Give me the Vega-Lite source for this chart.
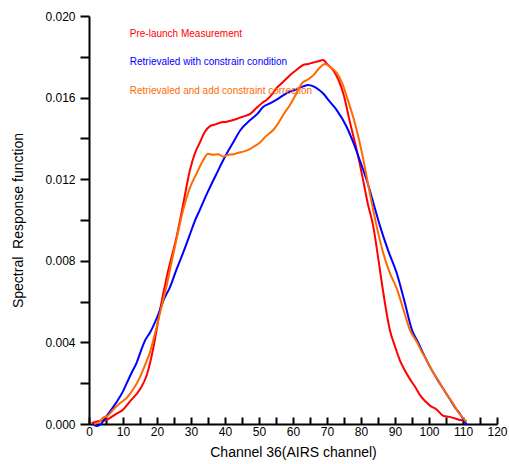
{
  "$schema": "https://vega.github.io/schema/vega-lite/v6.json",
  "width": 408,
  "height": 408,
  "autosize": "none",
  "padding": {"left": 89, "top": 16, "right": 12, "bottom": 40},
  "background": "white",
  "config": {"view": {"stroke": null}, "font": "Liberation Sans"},
  "datasets": {
    "curves": [
      {"x": 0.8, "y": 0.00005, "s": "Pre-launch Measurement"},
      {"x": 3, "y": 0.00015, "s": "Pre-launch Measurement"},
      {"x": 5, "y": 0.0002, "s": "Pre-launch Measurement"},
      {"x": 8, "y": 0.0005, "s": "Pre-launch Measurement"},
      {"x": 10, "y": 0.0007, "s": "Pre-launch Measurement"},
      {"x": 12, "y": 0.0011, "s": "Pre-launch Measurement"},
      {"x": 15, "y": 0.0017, "s": "Pre-launch Measurement"},
      {"x": 17, "y": 0.0024, "s": "Pre-launch Measurement"},
      {"x": 19, "y": 0.0038, "s": "Pre-launch Measurement"},
      {"x": 20.9, "y": 0.0056, "s": "Pre-launch Measurement"},
      {"x": 23, "y": 0.0073, "s": "Pre-launch Measurement"},
      {"x": 25.8, "y": 0.0092, "s": "Pre-launch Measurement"},
      {"x": 27.5, "y": 0.0106, "s": "Pre-launch Measurement"},
      {"x": 29.7, "y": 0.01245, "s": "Pre-launch Measurement"},
      {"x": 31, "y": 0.0132, "s": "Pre-launch Measurement"},
      {"x": 32.6, "y": 0.0138, "s": "Pre-launch Measurement"},
      {"x": 34, "y": 0.0143, "s": "Pre-launch Measurement"},
      {"x": 35.6, "y": 0.0146, "s": "Pre-launch Measurement"},
      {"x": 37, "y": 0.01468, "s": "Pre-launch Measurement"},
      {"x": 38.5, "y": 0.01477, "s": "Pre-launch Measurement"},
      {"x": 40.5, "y": 0.01482, "s": "Pre-launch Measurement"},
      {"x": 43.4, "y": 0.01495, "s": "Pre-launch Measurement"},
      {"x": 45, "y": 0.01505, "s": "Pre-launch Measurement"},
      {"x": 47.4, "y": 0.0152, "s": "Pre-launch Measurement"},
      {"x": 49.3, "y": 0.0155, "s": "Pre-launch Measurement"},
      {"x": 51, "y": 0.01575, "s": "Pre-launch Measurement"},
      {"x": 52.3, "y": 0.0159, "s": "Pre-launch Measurement"},
      {"x": 54, "y": 0.0162, "s": "Pre-launch Measurement"},
      {"x": 55.2, "y": 0.01647, "s": "Pre-launch Measurement"},
      {"x": 57, "y": 0.01675, "s": "Pre-launch Measurement"},
      {"x": 59.1, "y": 0.0171, "s": "Pre-launch Measurement"},
      {"x": 61, "y": 0.01735, "s": "Pre-launch Measurement"},
      {"x": 63, "y": 0.0176, "s": "Pre-launch Measurement"},
      {"x": 64.5, "y": 0.01765, "s": "Pre-launch Measurement"},
      {"x": 66, "y": 0.01772, "s": "Pre-launch Measurement"},
      {"x": 67.5, "y": 0.01778, "s": "Pre-launch Measurement"},
      {"x": 68.8, "y": 0.01784, "s": "Pre-launch Measurement"},
      {"x": 70.3, "y": 0.0176, "s": "Pre-launch Measurement"},
      {"x": 71.8, "y": 0.01735, "s": "Pre-launch Measurement"},
      {"x": 73.3, "y": 0.0169, "s": "Pre-launch Measurement"},
      {"x": 74.8, "y": 0.0162, "s": "Pre-launch Measurement"},
      {"x": 76.8, "y": 0.01475, "s": "Pre-launch Measurement"},
      {"x": 78.8, "y": 0.0134, "s": "Pre-launch Measurement"},
      {"x": 80.2, "y": 0.0123, "s": "Pre-launch Measurement"},
      {"x": 82, "y": 0.0108, "s": "Pre-launch Measurement"},
      {"x": 83.6, "y": 0.0097, "s": "Pre-launch Measurement"},
      {"x": 85, "y": 0.0082, "s": "Pre-launch Measurement"},
      {"x": 86.5, "y": 0.0065, "s": "Pre-launch Measurement"},
      {"x": 88.5, "y": 0.0046, "s": "Pre-launch Measurement"},
      {"x": 90, "y": 0.0038, "s": "Pre-launch Measurement"},
      {"x": 91.5, "y": 0.0031, "s": "Pre-launch Measurement"},
      {"x": 93, "y": 0.0026, "s": "Pre-launch Measurement"},
      {"x": 94.4, "y": 0.0022, "s": "Pre-launch Measurement"},
      {"x": 96, "y": 0.0018, "s": "Pre-launch Measurement"},
      {"x": 97.4, "y": 0.0014, "s": "Pre-launch Measurement"},
      {"x": 99, "y": 0.0011, "s": "Pre-launch Measurement"},
      {"x": 100.3, "y": 0.0009, "s": "Pre-launch Measurement"},
      {"x": 102.3, "y": 0.0007, "s": "Pre-launch Measurement"},
      {"x": 104.2, "y": 0.0004, "s": "Pre-launch Measurement"},
      {"x": 106, "y": 0.00035, "s": "Pre-launch Measurement"},
      {"x": 107.1, "y": 0.0003, "s": "Pre-launch Measurement"},
      {"x": 109.1, "y": 0.0002, "s": "Pre-launch Measurement"},
      {"x": 111, "y": 0.00015, "s": "Pre-launch Measurement"},

      {"x": 1, "y": 0, "s": "Retrievaled with constrain condition"},
      {"x": 2.3, "y": -0.0001, "s": "Retrievaled with constrain condition"},
      {"x": 3.5, "y": 0, "s": "Retrievaled with constrain condition"},
      {"x": 5.2, "y": 0.0004, "s": "Retrievaled with constrain condition"},
      {"x": 7, "y": 0.0008, "s": "Retrievaled with constrain condition"},
      {"x": 8.6, "y": 0.0012, "s": "Retrievaled with constrain condition"},
      {"x": 10, "y": 0.0016, "s": "Retrievaled with constrain condition"},
      {"x": 11.1, "y": 0.002, "s": "Retrievaled with constrain condition"},
      {"x": 12.5, "y": 0.0025, "s": "Retrievaled with constrain condition"},
      {"x": 14, "y": 0.003, "s": "Retrievaled with constrain condition"},
      {"x": 15.3, "y": 0.0036, "s": "Retrievaled with constrain condition"},
      {"x": 16.5, "y": 0.0041, "s": "Retrievaled with constrain condition"},
      {"x": 18, "y": 0.0045, "s": "Retrievaled with constrain condition"},
      {"x": 18.9, "y": 0.0048, "s": "Retrievaled with constrain condition"},
      {"x": 20.9, "y": 0.0056, "s": "Retrievaled with constrain condition"},
      {"x": 22, "y": 0.0061, "s": "Retrievaled with constrain condition"},
      {"x": 23.8, "y": 0.0067, "s": "Retrievaled with constrain condition"},
      {"x": 25.8, "y": 0.0076, "s": "Retrievaled with constrain condition"},
      {"x": 27.7, "y": 0.0084, "s": "Retrievaled with constrain condition"},
      {"x": 29.7, "y": 0.0093, "s": "Retrievaled with constrain condition"},
      {"x": 31, "y": 0.0099, "s": "Retrievaled with constrain condition"},
      {"x": 32.6, "y": 0.0105, "s": "Retrievaled with constrain condition"},
      {"x": 35, "y": 0.0114, "s": "Retrievaled with constrain condition"},
      {"x": 37.6, "y": 0.0123, "s": "Retrievaled with constrain condition"},
      {"x": 40, "y": 0.0131, "s": "Retrievaled with constrain condition"},
      {"x": 42.4, "y": 0.0138, "s": "Retrievaled with constrain condition"},
      {"x": 44.5, "y": 0.0144, "s": "Retrievaled with constrain condition"},
      {"x": 47.4, "y": 0.0149, "s": "Retrievaled with constrain condition"},
      {"x": 49.5, "y": 0.0152, "s": "Retrievaled with constrain condition"},
      {"x": 51.2, "y": 0.01554, "s": "Retrievaled with constrain condition"},
      {"x": 53, "y": 0.0157, "s": "Retrievaled with constrain condition"},
      {"x": 55.2, "y": 0.0159, "s": "Retrievaled with constrain condition"},
      {"x": 57, "y": 0.0161, "s": "Retrievaled with constrain condition"},
      {"x": 59.1, "y": 0.01629, "s": "Retrievaled with constrain condition"},
      {"x": 61, "y": 0.0164, "s": "Retrievaled with constrain condition"},
      {"x": 63, "y": 0.01655, "s": "Retrievaled with constrain condition"},
      {"x": 64.5, "y": 0.01662, "s": "Retrievaled with constrain condition"},
      {"x": 66, "y": 0.01655, "s": "Retrievaled with constrain condition"},
      {"x": 67.5, "y": 0.0164, "s": "Retrievaled with constrain condition"},
      {"x": 68.9, "y": 0.0162, "s": "Retrievaled with constrain condition"},
      {"x": 70.8, "y": 0.0158, "s": "Retrievaled with constrain condition"},
      {"x": 72.8, "y": 0.0154, "s": "Retrievaled with constrain condition"},
      {"x": 75.8, "y": 0.01456, "s": "Retrievaled with constrain condition"},
      {"x": 77.5, "y": 0.0139, "s": "Retrievaled with constrain condition"},
      {"x": 79.7, "y": 0.0129, "s": "Retrievaled with constrain condition"},
      {"x": 81.8, "y": 0.0119, "s": "Retrievaled with constrain condition"},
      {"x": 83.7, "y": 0.0108, "s": "Retrievaled with constrain condition"},
      {"x": 85.6, "y": 0.0097, "s": "Retrievaled with constrain condition"},
      {"x": 88, "y": 0.0085, "s": "Retrievaled with constrain condition"},
      {"x": 90.5, "y": 0.0074, "s": "Retrievaled with constrain condition"},
      {"x": 92.8, "y": 0.006, "s": "Retrievaled with constrain condition"},
      {"x": 95, "y": 0.0046, "s": "Retrievaled with constrain condition"},
      {"x": 96.8, "y": 0.004, "s": "Retrievaled with constrain condition"},
      {"x": 98.2, "y": 0.0035, "s": "Retrievaled with constrain condition"},
      {"x": 100.3, "y": 0.0028, "s": "Retrievaled with constrain condition"},
      {"x": 102.4, "y": 0.0022, "s": "Retrievaled with constrain condition"},
      {"x": 104.3, "y": 0.0017, "s": "Retrievaled with constrain condition"},
      {"x": 106.2, "y": 0.0012, "s": "Retrievaled with constrain condition"},
      {"x": 107.7, "y": 0.0008, "s": "Retrievaled with constrain condition"},
      {"x": 109.1, "y": 0.0005, "s": "Retrievaled with constrain condition"},
      {"x": 110.2, "y": 0.0002, "s": "Retrievaled with constrain condition"},
      {"x": 111.2, "y": -0.00005, "s": "Retrievaled with constrain condition"},

      {"x": 1.5, "y": 0, "s": "Retrievaled and add constraint correction"},
      {"x": 3, "y": 0.0001, "s": "Retrievaled and add constraint correction"},
      {"x": 4.1, "y": 0.0003, "s": "Retrievaled and add constraint correction"},
      {"x": 5.5, "y": 0.0004, "s": "Retrievaled and add constraint correction"},
      {"x": 7.1, "y": 0.0007, "s": "Retrievaled and add constraint correction"},
      {"x": 9, "y": 0.001, "s": "Retrievaled and add constraint correction"},
      {"x": 11.2, "y": 0.0013, "s": "Retrievaled and add constraint correction"},
      {"x": 13, "y": 0.0017, "s": "Retrievaled and add constraint correction"},
      {"x": 15, "y": 0.0023, "s": "Retrievaled and add constraint correction"},
      {"x": 16.5, "y": 0.0029, "s": "Retrievaled and add constraint correction"},
      {"x": 17.9, "y": 0.0035, "s": "Retrievaled and add constraint correction"},
      {"x": 19.2, "y": 0.0043, "s": "Retrievaled and add constraint correction"},
      {"x": 21.4, "y": 0.0058, "s": "Retrievaled and add constraint correction"},
      {"x": 23, "y": 0.0069, "s": "Retrievaled and add constraint correction"},
      {"x": 24.5, "y": 0.0081, "s": "Retrievaled and add constraint correction"},
      {"x": 25.8, "y": 0.0091, "s": "Retrievaled and add constraint correction"},
      {"x": 27.7, "y": 0.0105, "s": "Retrievaled and add constraint correction"},
      {"x": 29.5, "y": 0.0115, "s": "Retrievaled and add constraint correction"},
      {"x": 31.7, "y": 0.0123, "s": "Retrievaled and add constraint correction"},
      {"x": 33.5, "y": 0.0129, "s": "Retrievaled and add constraint correction"},
      {"x": 35, "y": 0.01325, "s": "Retrievaled and add constraint correction"},
      {"x": 36.5, "y": 0.0132, "s": "Retrievaled and add constraint correction"},
      {"x": 38, "y": 0.01322, "s": "Retrievaled and add constraint correction"},
      {"x": 39.5, "y": 0.0131, "s": "Retrievaled and add constraint correction"},
      {"x": 41, "y": 0.0132, "s": "Retrievaled and add constraint correction"},
      {"x": 42.5, "y": 0.01322, "s": "Retrievaled and add constraint correction"},
      {"x": 44, "y": 0.0133, "s": "Retrievaled and add constraint correction"},
      {"x": 45.4, "y": 0.01335, "s": "Retrievaled and add constraint correction"},
      {"x": 47, "y": 0.01345, "s": "Retrievaled and add constraint correction"},
      {"x": 48.5, "y": 0.0136, "s": "Retrievaled and add constraint correction"},
      {"x": 50.3, "y": 0.0138, "s": "Retrievaled and add constraint correction"},
      {"x": 52, "y": 0.0141, "s": "Retrievaled and add constraint correction"},
      {"x": 54.1, "y": 0.0144, "s": "Retrievaled and add constraint correction"},
      {"x": 55.5, "y": 0.0147, "s": "Retrievaled and add constraint correction"},
      {"x": 57.1, "y": 0.01515, "s": "Retrievaled and add constraint correction"},
      {"x": 59.1, "y": 0.01564, "s": "Retrievaled and add constraint correction"},
      {"x": 61, "y": 0.0162, "s": "Retrievaled and add constraint correction"},
      {"x": 62.6, "y": 0.0167, "s": "Retrievaled and add constraint correction"},
      {"x": 64.5, "y": 0.0169, "s": "Retrievaled and add constraint correction"},
      {"x": 66, "y": 0.0171, "s": "Retrievaled and add constraint correction"},
      {"x": 67.5, "y": 0.0174, "s": "Retrievaled and add constraint correction"},
      {"x": 69.4, "y": 0.01765, "s": "Retrievaled and add constraint correction"},
      {"x": 71, "y": 0.0175, "s": "Retrievaled and add constraint correction"},
      {"x": 72.9, "y": 0.0172, "s": "Retrievaled and add constraint correction"},
      {"x": 74.5, "y": 0.0167, "s": "Retrievaled and add constraint correction"},
      {"x": 75.9, "y": 0.016, "s": "Retrievaled and add constraint correction"},
      {"x": 78.2, "y": 0.01475, "s": "Retrievaled and add constraint correction"},
      {"x": 80.4, "y": 0.0132, "s": "Retrievaled and add constraint correction"},
      {"x": 82.5, "y": 0.0114, "s": "Retrievaled and add constraint correction"},
      {"x": 84.6, "y": 0.0097, "s": "Retrievaled and add constraint correction"},
      {"x": 86.5, "y": 0.0084, "s": "Retrievaled and add constraint correction"},
      {"x": 88.5, "y": 0.0074, "s": "Retrievaled and add constraint correction"},
      {"x": 90.6, "y": 0.0066, "s": "Retrievaled and add constraint correction"},
      {"x": 92.5, "y": 0.0056, "s": "Retrievaled and add constraint correction"},
      {"x": 94.4, "y": 0.0046, "s": "Retrievaled and add constraint correction"},
      {"x": 96.5, "y": 0.004, "s": "Retrievaled and add constraint correction"},
      {"x": 98, "y": 0.0035, "s": "Retrievaled and add constraint correction"},
      {"x": 99.4, "y": 0.0031, "s": "Retrievaled and add constraint correction"},
      {"x": 101, "y": 0.0026, "s": "Retrievaled and add constraint correction"},
      {"x": 103.2, "y": 0.002, "s": "Retrievaled and add constraint correction"},
      {"x": 105, "y": 0.0015, "s": "Retrievaled and add constraint correction"},
      {"x": 107.1, "y": 0.001, "s": "Retrievaled and add constraint correction"},
      {"x": 108.5, "y": 0.0006, "s": "Retrievaled and add constraint correction"},
      {"x": 110, "y": 0.0003, "s": "Retrievaled and add constraint correction"},
      {"x": 111, "y": 0.0001, "s": "Retrievaled and add constraint correction"}
    ],
    "labels": [
      {"x": 12, "y": 0.0191, "s": "Pre-launch Measurement"},
      {"x": 12, "y": 0.01775, "s": "Retrievaled with constrain condition"},
      {"x": 12, "y": 0.01632, "s": "Retrievaled and add constraint correction"}
    ]
  },
  "encoding": {
    "x": {
      "field": "x", "type": "quantitative",
      "scale": {"domain": [0, 120], "nice": false, "zero": false},
      "axis": {
        "title": "Channel 36(AIRS channel)",
        "values": [0,5,10,15,20,25,30,35,40,45,50,55,60,65,70,75,80,85,90,95,100,105,110,115,120],
        "labelExpr": "datum.value % 10 == 0 ? datum.label : ''",
        "labelOverlap": false,
        "grid": false, "ticks": true, "domain": true, "domainColor": "black", "domainWidth": 2,
        "tickColor": "black", "tickWidth": 2, "tickSize": -7,
        "labelPadding": 9, "labelFontSize": 12, "labelColor": "black",
        "labelFont": "Liberation Sans", "labelFlush": false,
        "titleFont": "Liberation Sans", "titleFontSize": 14, "titleFontWeight": "normal",
        "titleColor": "black", "titlePadding": 8
      }
    },
    "y": {
      "field": "y", "type": "quantitative",
      "scale": {"domain": [0, 0.02], "nice": false, "zero": false},
      "axis": {
        "title": "Spectral\u00a0 Response function",
        "values": [0, 0.002, 0.004, 0.006, 0.008, 0.01, 0.012, 0.014, 0.016, 0.018, 0.02],
        "labelExpr": "(round(datum.value * 1000) % 4 == 0) ? format(datum.value, '.3f') : ''",
        "labelOverlap": false,
        "grid": false, "ticks": true, "domain": true, "domainColor": "black", "domainWidth": 2,
        "tickColor": "black", "tickWidth": 2, "tickSize": 9,
        "labelPadding": 5, "labelFontSize": 12, "labelColor": "black",
        "labelFont": "Liberation Sans", "labelFlush": false,
        "titleFont": "Liberation Sans", "titleFontSize": 14, "titleFontWeight": "normal",
        "titleColor": "black", "titlePadding": 19
      }
    },
    "color": {
      "field": "s", "type": "nominal",
      "scale": {
        "domain": ["Pre-launch Measurement", "Retrievaled with constrain condition", "Retrievaled and add constraint correction"],
        "range": ["#ff0000", "#0000ff", "#ff6a00"]
      },
      "legend": null
    }
  },
  "layer": [
    {
      "data": {"name": "curves"},
      "mark": {"type": "line", "strokeWidth": 2, "clip": false, "interpolate": "monotone"}
    },
    {
      "data": {"name": "labels"},
      "mark": {"type": "text", "align": "left", "baseline": "middle", "fontSize": 10, "font": "Liberation Sans"},
      "encoding": {
        "text": {"field": "s"}
      }
    }
  ]
}
